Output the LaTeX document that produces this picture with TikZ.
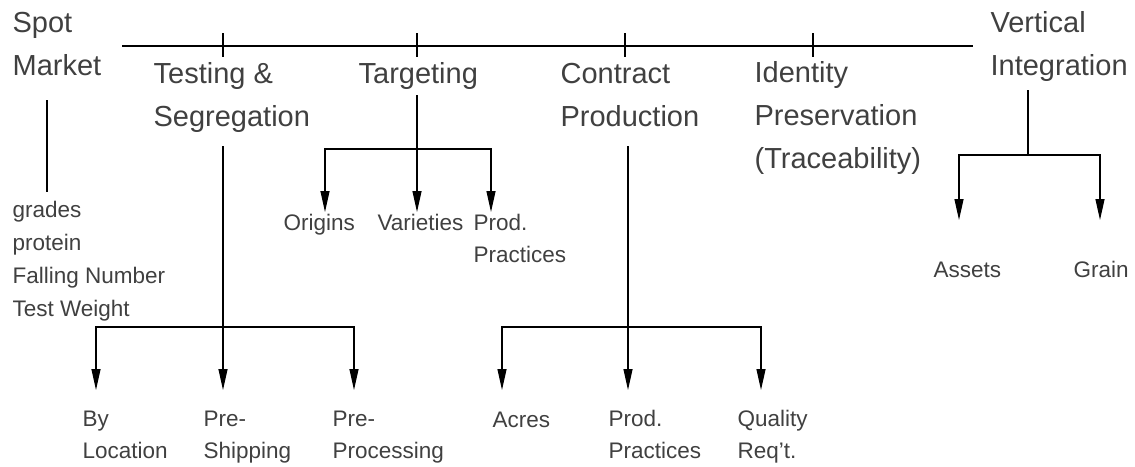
\documentclass[tikz,border=0pt]{standalone}
\usepackage{fontspec}
\setmainfont{Liberation Sans}
\usetikzlibrary{arrows.meta}
\definecolor{labelgray}{RGB}{64,64,64}
\tikzset{
  big/.style={anchor=base west, align=left, inner sep=0pt, text=labelgray, font=\fontsize{29}{43}\selectfont},
  small/.style={anchor=base west, align=left, inner sep=0pt, text=labelgray, font=\fontsize{22.5}{31.5}\selectfont},
  arr/.style={-{Triangle[length=21pt,width=9pt]}},
}
\begin{document}
\begin{tikzpicture}[x=1pt,y=-1pt,line width=1.2pt]
\useasboundingbox (0,0) rectangle (1135,466);

% time line with ticks
\coordinate (lineL) at (122,46);
\coordinate (lineR) at (973,46);
\draw (lineL) -- (lineR);
\foreach \x in {223,417,625,813} {
  \draw (\x,33) -- (\x,57);
}

% strategies (placed at the baseline of the last line)
\node[big] (spot) at (12,75) {Spot\\Market};
\node[big] (testing) at (153,126) {Testing \&\\Segregation};
\node[big] (target) at (358,83) {Targeting};
\node[big] (contract) at (560,126) {Contract\\Production};
\node[big] (identity) at (754,168) {Identity\\Preservation\\(Traceability)};
\node[big] (vertical) at (990,75) {Vertical\\Integration};

% spot market
\node[small, font=\fontsize{22.5}{33}\selectfont] (grades) at (12,316) {grades\\protein\\Falling Number\\Test Weight};
\coordinate (spotA) at (47,100);
\coordinate (spotB) at (47,192);
\draw (spotA) -- (spotB);

% testing & segregation
\node[small] (byloc) at (82,458) {By\\Location};
\node[small] (preship) at (203,458) {Pre-\\Shipping};
\node[small] (preproc) at (332,458) {Pre-\\Processing};
\coordinate (tsA) at (223,146);
\coordinate (tsB) at (223,327);
\coordinate (bylocTip) at (96,390);
\coordinate (preshipTip) at (223,390);
\coordinate (preprocTip) at (354,390);
\draw (tsA) -- (tsB);
\draw[arr] (tsB) -| (bylocTip);
\draw[arr] (tsB) -- (preshipTip);
\draw[arr] (tsB) -| (preprocTip);

% targeting
\node[small] (origins) at (283,230) {Origins};
\node[small] (varieties) at (377,230) {Varieties};
\node[small] (tprod) at (473,262) {Prod.\\Practices};
\coordinate (tgA) at (417,95);
\coordinate (tgB) at (417,149);
\coordinate (originsTip) at (325,212);
\coordinate (varietiesTip) at (417,212);
\coordinate (tprodTip) at (491,212);
\draw (tgA) -- (tgB);
\draw[arr] (tgB) -| (originsTip);
\draw[arr] (tgB) -- (varietiesTip);
\draw[arr] (tgB) -| (tprodTip);

% contract production
\node[small] (acres) at (492,427) {Acres};
\node[small] (cprod) at (608,458) {Prod.\\Practices};
\node[small] (quality) at (737,458) {Quality\\Req't.};
\coordinate (cpA) at (628,146);
\coordinate (cpB) at (628,327);
\coordinate (acresTip) at (502,390);
\coordinate (cprodTip) at (628,390);
\coordinate (qualityTip) at (761,390);
\draw (cpA) -- (cpB);
\draw[arr] (cpB) -| (acresTip);
\draw[arr] (cpB) -- (cprodTip);
\draw[arr] (cpB) -| (qualityTip);

% vertical integration
\node[small] (assets) at (933,277) {Assets};
\node[small] (grain) at (1073,277) {Grain};
\coordinate (viA) at (1028,90);
\coordinate (viB) at (1028,155);
\coordinate (assetsTip) at (959,220);
\coordinate (grainTip) at (1100,220);
\draw (viA) -- (viB);
\draw[arr] (viB) -| (assetsTip);
\draw[arr] (viB) -| (grainTip);
\end{tikzpicture}
\end{document}
